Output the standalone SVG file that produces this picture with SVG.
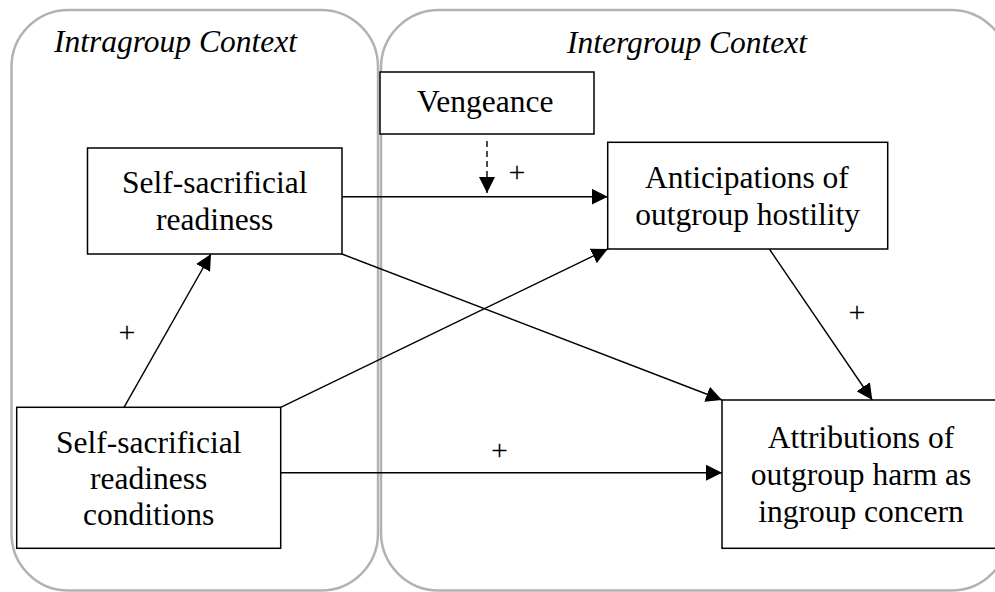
<svg xmlns="http://www.w3.org/2000/svg" width="995" height="592" viewBox="0 0 995 592">
  <defs>
    <marker id="arrow" markerUnits="userSpaceOnUse" markerWidth="16" markerHeight="16" viewBox="0 0 14 14" refX="14" refY="7" orient="auto">
      <path d="M0,0 L14,7 L0,14 Z" fill="#000000"/>
    </marker>
  </defs>

  <rect width="995" height="592" fill="#ffffff"/>

  <!-- context panels -->
  <g fill="none" stroke="#b2b2b2" stroke-width="2.5">
    <g id="intragroup-context">
      <rect x="11.5" y="10" width="366.5" height="580.5" rx="57" ry="57"/>
      <text x="54" y="51.5" font-family="'Liberation Serif', serif" font-size="31.5" font-style="italic" fill="#000000" stroke="none">Intragroup Context</text>
    </g>
    <g id="intergroup-context">
      <rect x="381" y="10" width="628" height="580.5" rx="58" ry="58"/>
      <text x="567" y="52.5" font-family="'Liberation Serif', serif" font-size="31.5" font-style="italic" fill="#000000" stroke="none">Intergroup Context</text>
    </g>
  </g>

  <!-- connectors -->
  <g id="connectors" fill="none" stroke="#000000" stroke-width="1.4">
    <line x1="342" y1="196.7" x2="607.7" y2="196.7" marker-end="url(#arrow)"/>
    <line x1="487" y1="141" x2="487" y2="193" stroke-dasharray="6 4" marker-end="url(#arrow)"/>
    <line x1="124" y1="407.3" x2="211" y2="254" marker-end="url(#arrow)"/>
    <line x1="280.7" y1="407.3" x2="607.7" y2="249" marker-end="url(#arrow)"/>
    <line x1="342" y1="254" x2="722" y2="400" marker-end="url(#arrow)"/>
    <line x1="769.3" y1="249" x2="872.3" y2="400" marker-end="url(#arrow)"/>
    <line x1="280.7" y1="472.7" x2="722" y2="472.7" marker-end="url(#arrow)"/>
    <text x="508.6" y="182" font-family="'Liberation Serif', serif" font-size="30" fill="#000000" stroke="none">+</text>
    <text x="118.6" y="342" font-family="'Liberation Serif', serif" font-size="30" fill="#000000" stroke="none">+</text>
    <text x="491.1" y="460" font-family="'Liberation Serif', serif" font-size="30" fill="#000000" stroke="none">+</text>
    <text x="848.6" y="322" font-family="'Liberation Serif', serif" font-size="30" fill="#000000" stroke="none">+</text>
  </g>

  <!-- nodes -->
  <g fill="#000000">
    <g id="vengeance">
      <rect x="380" y="72" width="214" height="62" fill="#ffffff" stroke="#000000" stroke-width="1.5"/>
      <text x="417" y="112" font-family="'Liberation Serif', serif" font-size="31.5">Vengeance</text>
    </g>
    <g id="self-sacrificial-readiness">
      <rect x="87.5" y="148" width="254.5" height="106" fill="#ffffff" stroke="#000000" stroke-width="1.5"/>
      <text x="122" y="193" font-family="'Liberation Serif', serif" font-size="31.5">Self-sacrificial</text>
      <text x="156.1" y="230" font-family="'Liberation Serif', serif" font-size="31.5">readiness</text>
    </g>
    <g id="anticipations">
      <rect x="607.7" y="142.3" width="280" height="106.7" fill="#ffffff" stroke="#000000" stroke-width="1.5"/>
      <text x="645" y="188" font-family="'Liberation Serif', serif" font-size="31.5">Anticipations of</text>
      <text x="635.2" y="224.5" font-family="'Liberation Serif', serif" font-size="31.5">outgroup hostility</text>
    </g>
    <g id="readiness-conditions">
      <rect x="16.7" y="407.3" width="264" height="141" fill="#ffffff" stroke="#000000" stroke-width="1.5"/>
      <text x="56" y="452.5" font-family="'Liberation Serif', serif" font-size="31.5">Self-sacrificial</text>
      <text x="90.1" y="488.5" font-family="'Liberation Serif', serif" font-size="31.5">readiness</text>
      <text x="83.1" y="525" font-family="'Liberation Serif', serif" font-size="31.5">conditions</text>
    </g>
    <g id="attributions">
      <rect x="722" y="400" width="278" height="148.3" fill="#ffffff" stroke="#000000" stroke-width="1.5"/>
      <text x="767.8" y="448.3" font-family="'Liberation Serif', serif" font-size="31.5">Attributions of</text>
      <text x="750.8" y="485" font-family="'Liberation Serif', serif" font-size="31.5">outgroup harm as</text>
      <text x="758.2" y="521.7" font-family="'Liberation Serif', serif" font-size="31.5">ingroup concern</text>
    </g>
  </g>
</svg>
